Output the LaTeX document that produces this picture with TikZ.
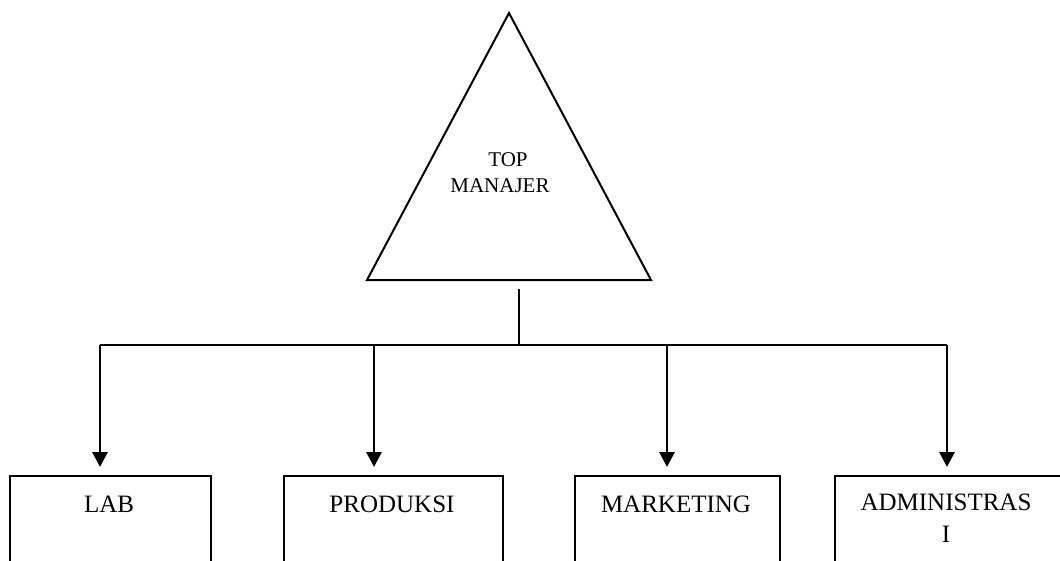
\documentclass[tikz,border=0pt]{standalone}
\usepackage{fontspec}
\setmainfont{Liberation Serif}
\usetikzlibrary{arrows.meta}
\begin{document}
\begin{tikzpicture}[x=1pt,y=-1pt,
  line/.style={line width=2pt,line join=miter},
  arr/.style={line width=2.8pt,-{Triangle[length=15pt,width=15pt]},shorten >=8pt},
  unitbox/.style={draw,line width=2pt,anchor=north west,minimum height=140pt,inner sep=0pt},
  boxlabel/.style={font=\fontsize{25}{32}\selectfont,anchor=base,align=center,inner sep=0pt},
  toplabel/.style={font=\fontsize{21}{26}\selectfont,align=center,inner sep=0pt}]
\useasboundingbox (0,0) rectangle (1060,560);
\clip (0,0) rectangle (1060,560);

% top manager triangle
\coordinate (apex) at (509,13);
\coordinate (bl) at (367,280);
\coordinate (br) at (651,280);
\draw[line] (apex) -- (bl) -- (br) -- cycle;
\node[toplabel,anchor=base] (top1) at (508,166) {TOP};
\node[toplabel,anchor=base] (top2) at (500,192) {MANAJER};

% stem and distribution bus
\coordinate (stemtop) at (519,289);
\coordinate (stembot) at (519,345);
\draw[line] (stemtop) -- (stembot);
\coordinate (busL) at (100,345);
\coordinate (bus2) at (374,345);
\coordinate (bus3) at (667,345);
\coordinate (busR) at (947,345);
\draw[line] (busL) -- (busR);

% departments
\node[unitbox,minimum width=201pt] (lab) at (9,475) {};
\node[unitbox,minimum width=219pt] (prod) at (283,475) {};
\node[unitbox,minimum width=205pt] (mkt) at (574,475) {};
\node[unitbox,minimum width=240pt] (adm) at (834,475) {};

\node[boxlabel] (labt) at (109,512) {LAB};
\node[boxlabel] (prodt) at (392,512) {PRODUKSI};
\node[boxlabel] (mktt) at (676,512) {MARKETING};
\node[boxlabel] (admt) at (946,542) {ADMINISTRAS\\I};

% arrows down to each department
\draw[arr] (busL) -- (busL |- lab.north);
\draw[arr] (bus2) -- (bus2 |- prod.north);
\draw[arr] (bus3) -- (bus3 |- mkt.north);
\draw[arr] (busR) -- (busR |- adm.north);
\end{tikzpicture}
\end{document}
